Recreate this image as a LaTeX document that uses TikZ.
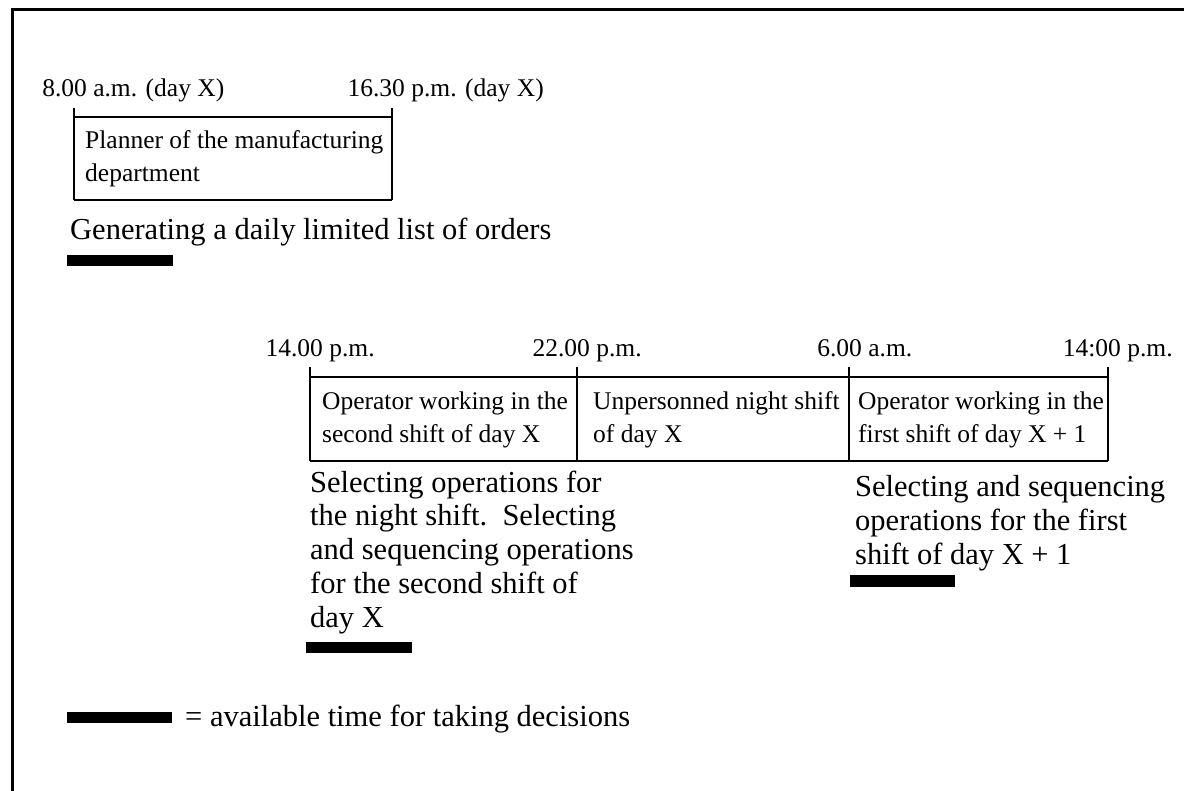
\documentclass[tikz,border=0pt]{standalone}
\usepackage{fontspec}
\setmainfont{Liberation Serif}
\newcommand\smallfs{\fontsize{25.5}{33}\selectfont}
\newcommand\bigfs{\fontsize{30.5}{33.7}\selectfont}
\begin{document}
\begin{tikzpicture}[x=1pt,y=-1pt,
  frame/.style={line width=3pt, line join=miter},
  boxline/.style={line width=2pt},
  tickline/.style={line width=2.4pt},
  lbl/.style={font=\smallfs, inner sep=0pt, anchor=base west},
  cell/.style={font=\smallfs, inner sep=0pt, anchor=base west, align=left},
  task/.style={font=\bigfs, inner sep=0pt, anchor=base west, align=left},
  bar/.style={fill=black, draw=none, inner sep=0pt, anchor=north west, minimum height=10.5pt}]
\useasboundingbox (0,0) rectangle (1184,791);
% frame (top and left only)
\draw[frame] (12,791) -- (12,10) -- (1184,10);

% ---- top timeline ----
\draw[boxline] (74,117) -- (392,117) (74,200) -- (392,200);
\draw[tickline] (74,108) -- (74,200) (392,108) -- (392,200);
\node[lbl] (t1) at (42.1,97) {8.00 a.m. (day X)};
\node[lbl] (t2) at (347.4,97) {16.30 p.m. (day X)};
% base anchor of a multi-line node = baseline of its last line
\node[cell] (planner) at (85,182) {Planner of the manufacturing\\department};
\node[task] (gen) at (70,240) {Generating a daily limited list of orders};
\node[bar, minimum width=106pt] (bar1) at (67,255) {};

% ---- lower timeline ----
\draw[boxline] (310,377) -- (1108,377) (310,461) -- (1108,461);
\draw[tickline] (310,367) -- (310,461) (577,367) -- (577,461)
  (849,367) -- (849,461) (1108,367) -- (1108,461);
\node[lbl] (l1) at (265.4,357) {14.00 p.m.};
\node[lbl] (l2) at (532.4,357) {22.00 p.m.};
\node[lbl] (l3) at (817.1,357) {6.00 a.m.};
\node[lbl] (l4) at (1062.7,357) {14:00 p.m.};
\node[cell] (op2) at (322,443) {Operator working in the\\second shift of day X};
\node[cell] (night) at (593,443) {Unpersonned night shift\\of day X};
\node[cell] (op1) at (858,443) {Operator working in the\\first shift of day X + 1};
\node[task] (sel2) at (310,627) {Selecting operations for\\the night shift.\ \ Selecting\\and sequencing operations\\for the second shift of\\day X};
\node[bar, minimum width=106pt] (bar2) at (306,642) {};
\node[task] (sel1) at (855,564) {Selecting and sequencing\\operations for the first\\shift of day X + 1};
\node[bar, minimum width=105pt, minimum height=12pt] (bar3) at (850,575) {};

% ---- legend ----
\node[bar, minimum width=105pt] (legbar) at (67,712) {};
\node[task] (legtxt) at (185,726) {= available time for taking decisions};
\end{tikzpicture}
\end{document}
